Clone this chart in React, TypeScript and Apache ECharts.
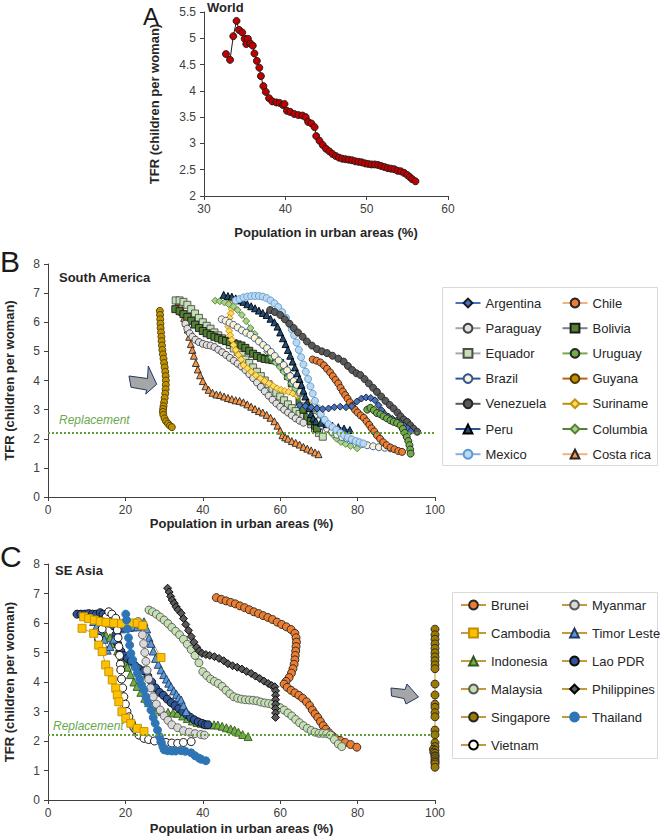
import React, { useEffect, useRef } from 'react';
import * as echarts from 'echarts';

const FONT = 'Liberation Sans, Arial, Helvetica, sans-serif';

// ---------- Panel A: World ----------
const world = [[32.7,4.70],[33.2,4.59],[33.6,5.04],[34.0,5.33],[34.3,5.16],[34.7,5.11],[35.0,4.99],[35.2,4.89],[35.4,4.99],[35.7,4.90],[36.0,4.86],[36.2,4.71],[36.5,4.57],[36.8,4.44],[37.0,4.28],[37.3,4.09],[37.6,3.98],[38.0,3.86],[38.4,3.80],[38.9,3.78],[39.3,3.77],[39.7,3.73],[39.9,3.75],[40.2,3.62],[40.6,3.60],[41.1,3.56],[41.6,3.54],[42.1,3.53],[42.5,3.50],[42.8,3.41],[43.2,3.38],[43.6,3.31],[43.8,3.14],[44.2,3.05],[44.6,2.97],[45.0,2.90],[45.4,2.85],[45.8,2.80],[46.2,2.76],[46.6,2.73],[47.0,2.71],[47.4,2.70],[47.8,2.69],[48.2,2.68],[48.6,2.66],[49.0,2.65],[49.4,2.64],[49.8,2.62],[50.2,2.61],[50.6,2.60],[51.0,2.60],[51.4,2.59],[51.8,2.57],[52.2,2.55],[52.6,2.53],[53.0,2.52],[53.4,2.51],[53.8,2.48],[54.2,2.47],[54.6,2.44],[55.0,2.40],[55.3,2.36],[55.6,2.32],[56.0,2.28]];

// ---------- Panel B: South America ----------
const argentina = [[65,3.15],[66.5,3.12],[68,3.08],[69.5,3.04],[71,3.02],[72.5,3.04],[74,3.08],[75.5,3.1],[77,3.08],[78.5,3.12],[79.8,3.28],[81,3.38],[82.2,3.42],[83.4,3.4],[84.5,3.32],[85.4,3.15],[86.2,2.98],[87,2.85],[88,2.76],[89,2.68],[90,2.62],[91,2.54],[92,2.45],[92.9,2.36],[93.7,2.26]];
const chile = [[68.4,4.72],[69.4,4.68],[70.4,4.62],[71.3,4.52],[72.1,4.4],[72.9,4.28],[73.6,4.15],[74.3,4.02],[75,3.9],[75.6,3.75],[76.2,3.62],[76.8,3.5],[77.4,3.38],[78,3.25],[78.6,3.12],[79.3,3.0],[80,2.9],[80.8,2.8],[81.6,2.72],[82.3,2.6],[83,2.48],[83.6,2.36],[84.3,2.25],[85,2.12],[85.8,2.0],[86.6,1.88],[87.5,1.78],[88.5,1.7],[89.5,1.64],[90.5,1.58],[91.5,1.55]];
const paraguay = [[35.5,5.95],[36,5.78],[36.6,5.62],[37.3,5.5],[38.1,5.4],[39,5.32],[40,5.26],[41,5.22],[42,5.2],[43,5.15],[44,5.06],[45,4.97],[46,4.88],[47,4.78],[48,4.68],[49,4.58],[50,4.48],[51,4.36],[52,4.22],[53,4.08],[54,3.93],[55,3.78],[56,3.63],[57,3.48],[58,3.34],[59,3.21],[60,3.1],[61,3.0],[62,2.9],[63,2.8],[64,2.7],[65,2.62],[66,2.55]];
const bolivia = [[32.9,6.45],[34,6.38],[35,6.28],[36,6.18],[37,6.05],[38,5.92],[39,5.8],[40,5.7],[41,5.62],[42,5.56],[43,5.5],[44,5.45],[45,5.4],[46,5.36],[47,5.32],[48,5.28],[49,5.24],[50,5.2],[51,5.12],[52,5.02],[53,4.92],[54,4.84],[55,4.78],[56,4.74],[57,4.72],[58,4.7],[59,4.68],[60,4.6],[61,4.4],[62,4.15],[63,3.9],[64,3.6],[65,3.3],[66,3.0],[67,2.75],[68,2.6],[69,2.45],[69.5,2.35]];
const equador = [[33,6.75],[34,6.75],[35,6.7],[36,6.6],[37,6.45],[38,6.3],[39,6.15],[40,6.0],[41,5.88],[42,5.78],[43,5.65],[44,5.55],[45,5.45],[46,5.35],[47,5.22],[48,5.1],[49,4.98],[50,4.88],[51,4.72],[52,4.6],[53,4.45],[54,4.3],[55,4.15],[56,4.0],[57,3.87],[58,3.72],[59,3.58],[60,3.45],[61,3.32],[62,3.18],[63,3.05],[64,2.95],[65,2.85],[66,2.75],[67,2.65],[68,2.5],[69,2.35],[70,2.2],[71,2.07]];
const uruguay = [[82.5,3.0],[83.3,3.06],[84.2,2.98],[85,2.88],[85.9,2.84],[86.7,2.77],[87.6,2.7],[88.5,2.63],[89.3,2.58],[90.2,2.54],[91.1,2.46],[91.7,2.34],[92.2,2.2],[92.7,2.06],[93.1,1.92],[93.4,1.78],[93.6,1.63],[93.7,1.49]];
const brazil = [[44.9,6.1],[45.9,6.05],[46.9,5.98],[47.9,5.91],[49,5.82],[50.1,5.72],[51.2,5.64],[52.3,5.57],[53.4,5.46],[54.5,5.34],[55.6,5.22],[56.6,5.11],[57.6,4.98],[58.6,4.84],[59.6,4.69],[60.9,4.53],[61.8,4.35],[62.6,4.15],[63.5,3.98],[64.3,3.85],[65.2,3.6],[66,3.35],[66.9,3.1],[67.8,2.93],[68.8,2.75],[69.8,2.6],[70.9,2.46],[72.1,2.35],[73.4,2.24],[74.7,2.14],[76,2.06],[77.3,2.01],[78.6,1.95],[79.9,1.88],[81.2,1.82],[82.5,1.78],[84,1.74],[85.5,1.71],[87,1.69],[88.5,1.67]];
const guyana = [[28.9,6.39],[28.95,6.25],[29.0,6.1],[29.05,5.95],[29.1,5.8],[29.2,5.65],[29.3,5.5],[29.35,5.35],[29.45,5.2],[29.55,5.05],[29.7,4.9],[29.85,4.75],[30.0,4.6],[30.15,4.45],[30.3,4.3],[30.4,4.15],[30.45,4.0],[30.45,3.85],[30.4,3.7],[30.3,3.55],[30.15,3.4],[30.0,3.25],[29.85,3.12],[29.75,3.02],[29.7,2.92],[29.8,2.82],[30.1,2.7],[30.5,2.6],[31.0,2.52],[31.5,2.45],[32.0,2.4]];
const venezuela = [[57.4,6.42],[58.6,6.35],[60,6.25],[61.2,6.1],[62.4,5.95],[63.5,5.8],[64.6,5.65],[65.8,5.5],[66.9,5.34],[68.2,5.2],[69.5,5.08],[70.8,5.0],[72.1,4.94],[73.5,4.85],[75,4.75],[76.4,4.65],[77.5,4.5],[78.6,4.36],[79.7,4.25],[80.7,4.19],[81.8,4.05],[82.9,3.9],[84,3.75],[85,3.61],[86.1,3.45],[87.2,3.3],[88.3,3.16],[89.3,3.04],[90.3,2.9],[91.1,2.77],[91.9,2.66],[92.8,2.58],[93.6,2.46],[94.4,2.35],[95.4,2.24]];
const suriname = [[46.8,6.7],[47.3,6.6],[47.5,6.45],[47.2,6.3],[46.9,6.15],[46.7,6.0],[46.6,5.85],[46.8,5.7],[47.1,5.55],[47.5,5.4],[47.9,5.22],[48.5,5.05],[49.2,4.88],[49.9,4.72],[50.5,4.53],[51.5,4.42],[52.5,4.3],[53.7,4.18],[54.9,4.07],[56,3.98],[57.1,3.9],[58.2,3.81],[59.2,3.73],[60.2,3.68],[61.2,3.64],[62.2,3.61],[63.3,3.55],[64.4,3.48],[65.3,3.42],[66.1,3.39],[66.9,3.3],[67.6,3.15],[68.2,3.0],[68.8,2.85],[69.4,2.7],[70,2.6]];
const peru = [[45.4,6.94],[46.5,6.9],[47.5,6.88],[48.5,6.82],[49.5,6.75],[50.5,6.7],[51.5,6.62],[52.5,6.55],[53.5,6.48],[54.5,6.4],[55.5,6.32],[56.5,6.25],[57.5,6.12],[58.5,6.0],[59.3,5.85],[60,5.65],[60.7,5.45],[61.4,5.25],[62,5.05],[62.6,4.85],[63.2,4.65],[63.8,4.45],[64.4,4.25],[65,4.05],[65.5,3.85],[66,3.65],[66.5,3.45],[67,3.25],[67.5,3.05],[68,2.85],[68.5,2.7],[69.2,2.6],[70.5,2.55],[72,2.5],[73.5,2.45],[75,2.4],[76.5,2.35],[78,2.3]];
const columbia = [[43.2,6.74],[44.4,6.72],[45.6,6.68],[46.7,6.62],[47.9,6.54],[49,6.42],[50.1,6.25],[51.2,6.04],[52.3,5.8],[53.4,5.6],[54.5,5.4],[55.6,5.2],[56.6,4.99],[57.7,4.8],[58.8,4.62],[59.9,4.46],[60.9,4.3],[61.9,4.1],[62.9,3.9],[63.9,3.72],[64.8,3.55],[65.7,3.4],[66.5,3.22],[67.3,3.08],[68.1,2.96],[68.9,2.84],[69.8,2.7],[70.6,2.57],[71.5,2.44],[72.5,2.3],[73.6,2.14],[74.6,2.0],[75.7,1.89],[76.9,1.82],[78.2,1.75],[79.9,1.67]];
const mexico = [[48.5,6.75],[49.5,6.8],[50.5,6.85],[51.5,6.88],[52.5,6.9],[53.5,6.9],[54.5,6.9],[55.5,6.88],[56.5,6.83],[57.5,6.75],[58.5,6.65],[59.5,6.52],[60.5,6.35],[61.5,6.15],[62.3,5.95],[63,5.75],[63.6,5.55],[64.2,5.3],[64.8,5.05],[65.4,4.8],[66,4.55],[66.6,4.3],[67.2,4.05],[67.8,3.8],[68.4,3.55],[69,3.3],[69.7,3.05],[70.5,2.85],[71.5,2.65],[72.5,2.5],[73.5,2.4],[74.5,2.3],[75.5,2.2],[76.5,2.12],[77.5,2.05],[78.5,1.98],[79.5,1.92],[80.5,1.88],[81.5,1.84]];
const costaRica = [[33.7,6.71],[34.2,6.55],[34.7,6.35],[35.2,6.15],[35.7,5.98],[36.1,5.75],[36.5,5.5],[36.9,5.25],[37.3,5.05],[37.7,4.85],[38.2,4.6],[38.7,4.38],[39.3,4.18],[40.0,3.98],[40.7,3.8],[41.5,3.68],[42.5,3.58],[43.5,3.52],[44.5,3.5],[45.5,3.45],[46.5,3.4],[47.5,3.36],[48.5,3.32],[49.5,3.3],[50.5,3.25],[51.5,3.18],[52.5,3.1],[53.5,3.02],[54.5,2.95],[55.5,2.9],[56.5,2.82],[57.5,2.72],[58.5,2.6],[59.3,2.45],[60.0,2.28],[60.6,2.12],[61.3,2.05],[62.0,2.0],[63.0,1.92],[64.0,1.86],[65.0,1.8],[66.0,1.72],[67.0,1.66],[68.0,1.6],[69.0,1.53],[69.9,1.47]];

// ---------- Panel C: SE Asia ----------
const brunei = [[43.5,6.86],[44.8,6.8],[46,6.75],[47.2,6.7],[48.4,6.65],[49.6,6.58],[50.8,6.52],[52,6.45],[53.2,6.38],[54.4,6.32],[55.6,6.25],[56.8,6.19],[58,6.12],[59.2,6.03],[60.4,5.95],[61.6,5.87],[62.8,5.78],[63.8,5.65],[64.1,5.5],[64.2,5.35],[64.1,5.2],[64.0,5.05],[63.9,4.9],[63.8,4.75],[63.6,4.6],[63.3,4.45],[62.9,4.3],[62.3,4.15],[61.5,4.02],[61.0,3.93],[61.8,3.82],[62.8,3.72],[63.8,3.63],[64.8,3.55],[65.8,3.45],[66.8,3.33],[67.6,3.2],[68.3,3.05],[69.0,2.92],[69.7,2.8],[70.4,2.66],[71.1,2.52],[71.8,2.4],[72.6,2.28],[73.4,2.18],[74.2,2.1],[75.5,2.02],[76.8,1.95],[78.2,1.88],[79.8,1.79]];
const cambodiaEarly = [[9.2,6.21],[10.5,6.15],[12,6.1],[13.5,6.05],[15,6.02],[17,6.0],[19,5.98],[21,6.0],[23.1,6.0],[24.5,5.92],[29.2,4.83]];
const cambodiaLate = [[8.8,5.82],[11.8,5.65],[13.1,5.25],[14.0,5.03],[14.9,4.58],[15.7,4.35],[16.6,4.07],[17.5,3.79],[17.9,3.56],[18.3,3.33],[19.1,2.99],[20.1,2.77],[21.4,2.6],[23.1,2.43],[24.8,2.32]];
const indonesia = [[13,5.55],[14,5.6],[15,5.58],[16,5.5],[17,5.3],[18,5.05],[19,4.85],[20,4.65],[20.5,4.5],[21.3,4.25],[22.2,4.0],[23,3.85],[24,3.65],[25,3.45],[26,3.3],[27,3.18],[28.3,3.05],[29.5,3.0],[31,2.97],[32.3,2.95],[33.5,2.94],[34.8,2.85],[36,2.76],[37.3,2.68],[38.5,2.63],[39.6,2.6],[40.7,2.57],[41.8,2.55],[42.9,2.55],[43.9,2.54],[45,2.5],[46.1,2.45],[47.2,2.41],[48.2,2.37],[49.2,2.3],[50.3,2.22],[51.7,2.15]];
const malaysia = [[26.1,6.44],[27,6.38],[28,6.3],[29,6.2],[30,6.1],[31,5.98],[32,5.85],[33,5.72],[34,5.6],[35,5.45],[36,5.28],[37,5.1],[38,4.9],[39,4.65],[40,4.35],[41,4.22],[42,4.1],[43,4.02],[44,3.95],[45,3.85],[46,3.72],[47,3.6],[48,3.5],[49,3.45],[50,3.42],[51,3.4],[52,3.39],[53,3.38],[54,3.36],[55,3.32],[56,3.29],[57,3.27],[58,3.24],[59,3.2],[60,3.13],[61,3.05],[62,2.95],[63,2.85],[64,2.73],[65,2.62],[66,2.52],[67,2.43],[68,2.36],[69,2.3],[70,2.26],[71,2.26],[72,2.25],[73,2.2],[74,2.05],[75,1.9],[75.9,1.81]];
const singapore = [[100,5.79],[100,5.6],[100,5.45],[100,5.29],[100,5.14],[100,4.99],[100,4.85],[100,4.72],[100,4.58],[100,4.45],[100,3.93],[100,3.56],[100,3.25],[100,3.14],[100,2.96],[100,2.82],[100,2.37],[100,2.21],[100,1.94],[100,1.81],[99.6,1.72],[100,1.69],[99.7,1.62],[100,1.58],[100,1.5],[100,1.47],[100,1.4],[100,1.33],[100,1.28],[100,1.22],[100,1.11]];
const vietnam = [[13.1,5.48],[14,5.8],[15,6.2],[15.7,6.38],[16.5,6.3],[17.5,6.16],[17.9,5.76],[18.1,5.5],[18.3,5.2],[18.5,4.9],[18.7,4.6],[18.8,4.41],[19,4.1],[19.3,3.8],[19.6,3.5],[20,3.25],[20.4,3.0],[20.9,2.82],[21.6,2.6],[22.2,2.45],[22.7,2.37],[23.5,2.2],[24.8,2.09],[26,2.05],[27.5,2.0],[29.2,1.98],[30.5,1.95],[32,1.93],[33.5,1.92],[35,1.95],[37,1.98]];
const myanmar = [[22.5,6.0],[23.3,6.05],[24,5.9],[24.4,5.6],[24.7,5.3],[25,5.0],[25.3,4.7],[25.6,4.4],[26,4.1],[26.5,3.8],[27.2,3.5],[28,3.25],[29,3.05],[30,2.85],[31,2.7],[32,2.55],[33.5,2.45],[35,2.35],[36.5,2.3],[38,2.25],[39.5,2.22],[40.4,2.2]];
const timorLeste = [[11,6.21],[11.8,6.05],[12.6,5.9],[13.6,5.76],[14.5,5.45],[15.3,5.08],[16,5.2],[17,5.45],[18,5.7],[19,5.8],[20,5.85],[21,5.85],[22,5.87],[23.1,5.87],[24,5.95],[24.8,6.04],[25.5,5.8],[26.1,5.5],[26.6,5.31],[27.2,5.05],[27.8,4.8],[28.5,4.6],[29.2,4.41],[29.9,4.25],[30.6,4.1],[31.2,3.96],[31.8,3.84],[32.5,3.7],[33.2,3.58],[33.8,3.47],[34.4,3.39],[35,3.2],[35.7,3.0]];
const laoPDR = [[7.5,6.3],[8.5,6.3],[9.5,6.3],[10.5,6.32],[11.5,6.3],[12.5,6.3],[13.5,6.35],[14.2,6.3],[14.8,6.15],[15.5,6.0],[16.2,5.99],[17,5.9],[17.5,5.6],[18,5.3],[18.8,5.05],[19.6,4.9],[20.5,4.8],[21.5,4.7],[22.5,4.55],[23.5,4.45],[24.8,4.38],[25.8,4.2],[26.8,4.0],[27.8,3.8],[28.8,3.65],[29.8,3.55],[30.8,3.42],[31.8,3.3],[32.8,3.2],[33.8,3.1],[34.8,3.0],[35.8,2.9],[36.8,2.8],[37.8,2.72],[38.8,2.65],[39.8,2.6],[40.6,2.55],[41.3,2.55]];
const philippines = [[30.9,7.18],[31.3,7.05],[31.7,6.9],[32.1,6.78],[32.6,6.67],[33.1,6.55],[33.6,6.45],[34.4,6.33],[35,6.15],[35.6,5.95],[36.3,5.75],[37,5.54],[37.7,5.35],[38.4,5.18],[39.1,5.05],[39.8,4.97],[40.8,4.93],[41.8,4.9],[43,4.86],[44.2,4.8],[45.4,4.72],[46.5,4.62],[47.7,4.55],[48.9,4.5],[50.1,4.44],[51.3,4.36],[52.5,4.29],[53.6,4.2],[54.7,4.12],[55.8,4.03],[56.9,3.95],[57.8,3.88],[58.6,3.84],[58.8,3.7],[58.8,3.55],[58.8,3.4],[58.8,3.25],[58.8,3.1],[58.8,2.95],[58.8,2.8]];
const thailand = [[20.1,6.3],[20.3,6.1],[20.5,5.8],[20.8,5.5],[21.1,5.25],[21.4,4.97],[21.9,4.75],[22.5,4.5],[23.1,4.29],[23.7,4.1],[24.2,3.9],[24.8,3.73],[25.3,3.5],[25.8,3.3],[26.6,3.05],[27.2,2.8],[27.7,2.6],[28.3,2.37],[28.8,2.15],[29.3,1.95],[29.7,1.8],[30,1.7],[30.9,1.67],[32,1.66],[33,1.66],[34.4,1.67],[35.5,1.65],[37,1.6],[38,1.5],[39,1.42],[39.6,1.38],[40.8,1.33]];

const replacementTFR = 2.2;

const saLegendCol1 = ['Argentina', 'Paraguay', 'Equador', 'Brazil', 'Venezuela', 'Peru', 'Mexico'];
const saLegendCol2 = ['Chile', 'Bolivia', 'Uruguay', 'Guyana', 'Suriname', 'Columbia', 'Costa rica'];
const seLegendCol1 = ['Brunei', 'Cambodia', 'Indonesia', 'Malaysia', 'Singapore', 'Vietnam'];
const seLegendCol2 = ['Myanmar', 'Timor Leste', 'Lao PDR', 'Philippines', 'Thailand'];

const AXIS_COLOR = '#404040';
const SEA_LINE = '#c49a3c';

function mk(name: string, data: number[][], idx: number, symbol: string, fill: string, border: string, line: string, size = 7) {
  return {
    type: 'line', name, data, xAxisIndex: idx, yAxisIndex: idx,
    symbol, symbolSize: size, showSymbol: true, clip: false,
    itemStyle: { color: fill, borderColor: border, borderWidth: 0.9 },
    lineStyle: { color: line, width: 1 },
    emphasis: { disabled: true },
  };
}

function xAx(idx: number, min: number, max: number, interval: number, nameGap: number) {
  return {
    type: 'value', gridIndex: idx, min, max, interval,
    name: 'Population in urban areas (%)', nameLocation: 'middle', nameGap,
    nameTextStyle: { fontFamily: FONT, fontWeight: 'bold', fontSize: 13, color: '#262626' },
    axisLine: { show: true, onZero: false, lineStyle: { color: AXIS_COLOR, width: 1 } },
    axisTick: { show: true, length: 4, lineStyle: { color: AXIS_COLOR } },
    axisLabel: { fontFamily: FONT, fontSize: 12, color: '#404040', margin: 7 },
    splitLine: { show: false },
  };
}
function yAx(idx: number, min: number, max: number, interval: number, nameGap: number) {
  return {
    type: 'value', gridIndex: idx, min, max, interval,
    name: 'TFR (children per woman)', nameLocation: 'middle', nameGap,
    nameTextStyle: { fontFamily: FONT, fontWeight: 'bold', fontSize: 13, color: '#262626' },
    axisLine: { show: true, onZero: false, lineStyle: { color: AXIS_COLOR, width: 1 } },
    axisTick: { show: true, length: 4, lineStyle: { color: AXIS_COLOR } },
    axisLabel: { fontFamily: FONT, fontSize: 12, color: '#404040', margin: 8 },
    splitLine: { show: false },
  };
}

function legendCol(data: string[], left: number, top: number, gap: number) {
  return {
    data, left, top, orient: 'vertical', padding: 0,
    itemWidth: 25, itemHeight: 11, itemGap: gap, selectedMode: false,
    textStyle: { fontFamily: FONT, fontSize: 13, color: '#262626', lineHeight: 14 },
  };
}

function replacementMark() {
  return {
    silent: true, symbol: 'none', label: { show: false },
    lineStyle: { color: '#5f9f35', type: 'dotted', width: 2 },
    data: [{ yAxis: replacementTFR }],
  };
}

export default function App() {
  const ref = useRef<HTMLDivElement>(null);
  useEffect(() => {
    document.body.style.margin = '0';
    const chart = echarts.init(ref.current!, null, { renderer: 'svg' });
    const saSeries: any[] = [
      mk('Guyana', guyana, 1, 'circle', '#bf9000', '#4d3a00', '#c55a11'),
      mk('Costa rica', costaRica, 1, 'triangle', '#f79646', '#262626', '#f4b183'),
      mk('Equador', equador, 1, 'rect', '#c5e0b4', '#4d4d4d', '#a6a6a6'),
      mk('Bolivia', bolivia, 1, 'rect', '#548235', '#1a1a1a', '#7f7f7f'),
      mk('Paraguay', paraguay, 1, 'circle', '#e0e0e0', '#404040', '#a6a6a6'),
      mk('Suriname', suriname, 1, 'diamond', '#ffd966', '#bf9000', '#bf9000'),
      mk('Columbia', columbia, 1, 'diamond', '#a9d18e', '#548235', '#548235'),
      mk('Brazil', brazil, 1, 'circle', '#fff2cc', '#2f5597', '#2f5597'),
      mk('Peru', peru, 1, 'triangle', '#1f4e79', '#000000', '#2f5597'),
      mk('Mexico', mexico, 1, 'circle', '#bdd7ee', '#5b9bd5', '#8faadc'),
      mk('Venezuela', venezuela, 1, 'circle', '#595959', '#262626', '#595959'),
      mk('Chile', chile, 1, 'circle', '#ed7d31', '#262626', '#f4b183'),
      mk('Argentina', argentina, 1, 'diamond', '#4472c4', '#1a1a1a', '#4472c4'),
      mk('Uruguay', uruguay, 1, 'circle', '#70ad47', '#262626', '#70ad47'),
    ];
    saSeries[0].markLine = replacementMark();
    const seSeries: any[] = [
      mk('Singapore', singapore, 2, 'circle', '#9c7a00', '#262626', SEA_LINE, 8),
      mk('Brunei', brunei, 2, 'circle', '#ed7d31', '#262626', SEA_LINE, 8),
      mk('Malaysia', malaysia, 2, 'circle', '#c5e0b4', '#595959', SEA_LINE, 8),
      mk('Philippines', philippines, 2, 'diamond', '#595959', '#000000', SEA_LINE, 8),
      mk('Indonesia', indonesia, 2, 'triangle', '#70ad47', '#375623', SEA_LINE, 8),
      mk('Lao PDR', laoPDR, 2, 'circle', '#2f5597', '#0d0d0d', SEA_LINE, 8),
      mk('Timor Leste', timorLeste, 2, 'triangle', '#5b9bd5', '#1f3864', SEA_LINE, 8),
      mk('Myanmar', myanmar, 2, 'circle', '#d9d9d9', '#595959', SEA_LINE, 8),
      mk('Vietnam', vietnam, 2, 'circle', '#ffffff', '#000000', SEA_LINE, 8),
      mk('Cambodia', cambodiaEarly, 2, 'rect', '#ffc000', '#bf9000', SEA_LINE, 8),
      mk('Cambodia', cambodiaLate, 2, 'rect', '#ffc000', '#bf9000', SEA_LINE, 8),
      mk('Thailand', thailand, 2, 'circle', '#2e75b6', '#2e75b6', SEA_LINE, 8),
    ];
    seSeries[0].markLine = replacementMark();

    const arrowStyle = { fill: '#a6a6a6', stroke: '#1f3864', lineWidth: 1 };
    const option: any = {
      animation: false,
      textStyle: { fontFamily: FONT },
      grid: [
        { left: 204, top: 12, width: 244, height: 184, outerBoundsMode: 'none', containLabel: false },
        { left: 48, top: 264, width: 387, height: 233, outerBoundsMode: 'none', containLabel: false },
        { left: 48, top: 564, width: 387, height: 236, outerBoundsMode: 'none', containLabel: false },
      ],
      xAxis: [xAx(0, 30, 60, 10, 30), xAx(1, 0, 100, 20, 19), xAx(2, 0, 100, 20, 22)],
      yAxis: [yAx(0, 2, 5.5, 0.5, 43), yAx(1, 0, 8, 1, 32), yAx(2, 0, 8, 1, 32)],
      legend: [
        legendCol(saLegendCol1, 454.5, 296, 11.2),
        legendCol(saLegendCol2, 561.5, 296, 11.2),
        legendCol(seLegendCol1, 460, 598, 14),
        legendCol(seLegendCol2, 561, 598, 14),
      ],
      series: [
        mk('World', world, 0, 'circle', '#c00000', '#1a1a1a', '#1a1a1a', 7),
        ...saSeries,
        ...seSeries,
      ],
      graphic: [
        { type: 'text', x: 143, y: 16, style: { text: 'A', font: '24px ' + FONT, fill: '#1a1a1a', verticalAlign: 'middle' } },
        { type: 'text', x: 0, y: 261, style: { text: 'B', font: '30px ' + FONT, fill: '#1a1a1a', verticalAlign: 'middle' } },
        { type: 'text', x: 0, y: 556, style: { text: 'C', font: '30px ' + FONT, fill: '#1a1a1a', verticalAlign: 'middle' } },
        { type: 'text', x: 207, y: 7, style: { text: 'World', font: 'bold 13px ' + FONT, fill: '#262626', verticalAlign: 'middle' } },
        { type: 'text', x: 59, y: 277, style: { text: 'South America', font: 'bold 13px ' + FONT, fill: '#262626', verticalAlign: 'middle' } },
        { type: 'text', x: 55, y: 570, style: { text: 'SE Asia', font: 'bold 13px ' + FONT, fill: '#262626', verticalAlign: 'middle' } },
        { type: 'text', x: 59, y: 420, style: { text: 'Replacement', font: 'italic 12px ' + FONT, fill: '#6aa84f', verticalAlign: 'middle' } },
        { type: 'text', x: 53, y: 726, style: { text: 'Replacement', font: 'italic 12px ' + FONT, fill: '#6aa84f', verticalAlign: 'middle' } },
        { type: 'rect', shape: { x: 442.5, y: 287.5, width: 215, height: 178 }, style: { fill: 'none', stroke: '#d9d9d9', lineWidth: 1 }, z: -1 },
        { type: 'rect', shape: { x: 452.5, y: 592.5, width: 205, height: 166 }, style: { fill: 'none', stroke: '#d9d9d9', lineWidth: 1 }, z: -1 },
        { type: 'polygon', shape: { points: [[129, 376], [147.5, 378.5], [148.3, 366], [156.7, 384.3], [145.7, 394], [146.7, 390], [131, 387.3]] }, style: arrowStyle },
        { type: 'polygon', shape: { points: [[391, 688], [405, 689.5], [407, 684], [418.5, 697], [406, 704], [404, 698.5], [391.5, 696]] }, style: arrowStyle },
      ],
    };
    chart.setOption(option);
    return () => chart.dispose();
  }, []);
  return <div ref={ref} style={{ width: 661, height: 839 }} />;
}
